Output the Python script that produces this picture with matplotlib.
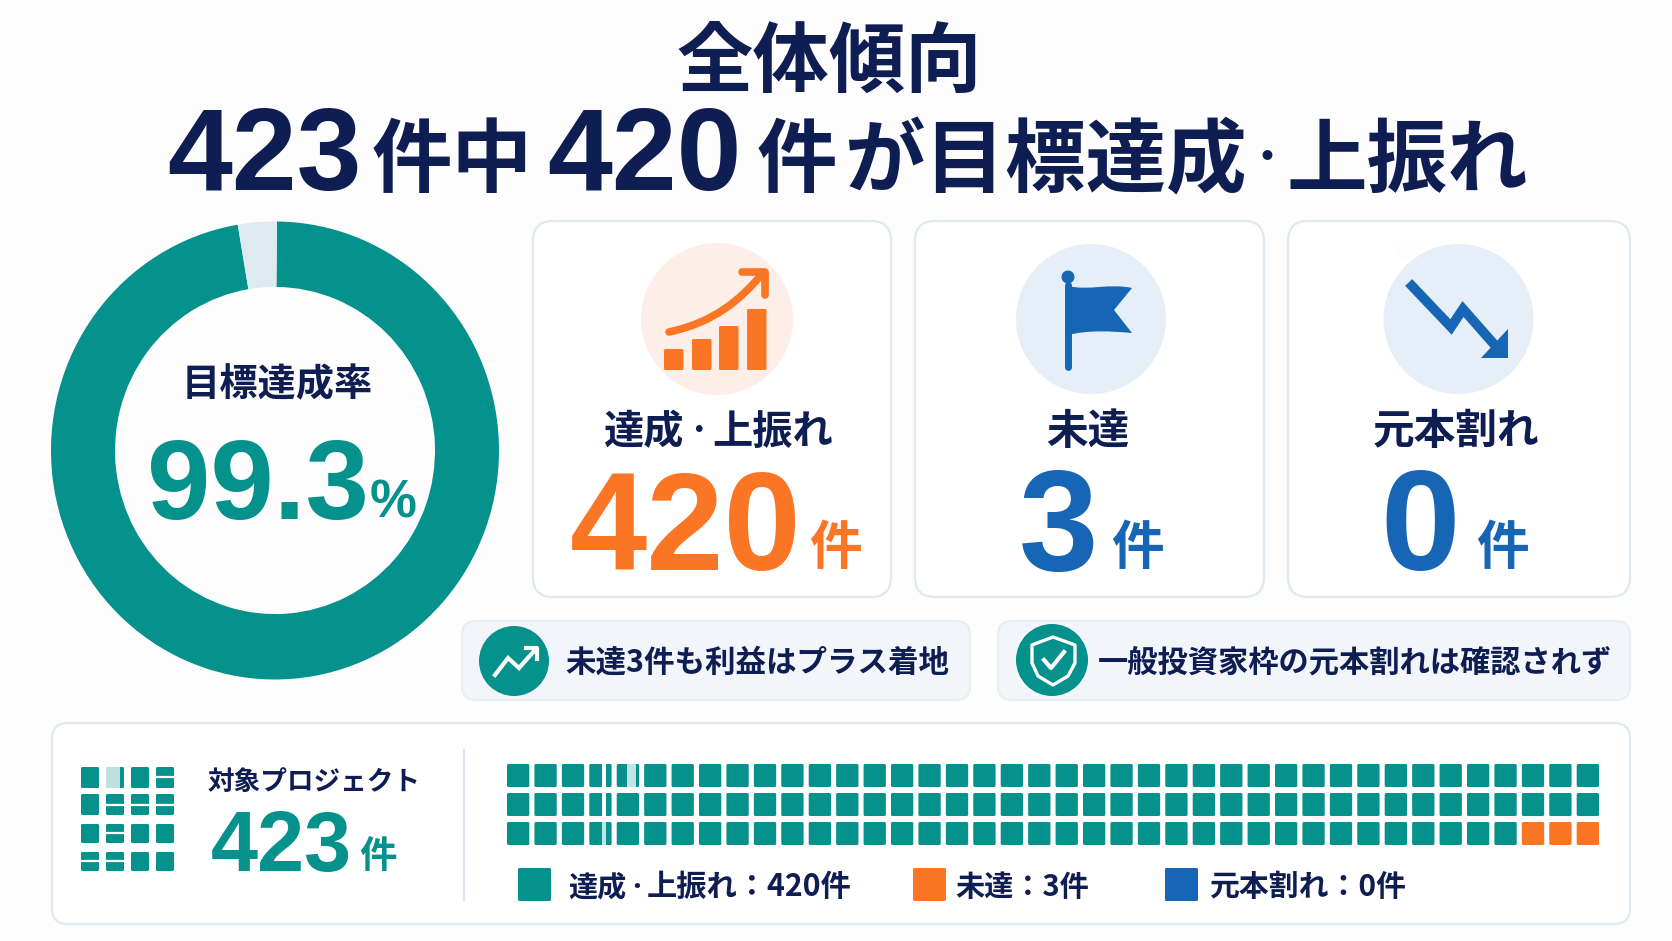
import numpy as np
import matplotlib
matplotlib.use('Agg')
import matplotlib.pyplot as plt
from matplotlib.patches import FancyBboxPatch, Circle, Polygon, PathPatch, Ellipse
from matplotlib.path import Path

plt.rcParams['font.family'] = ['Noto Sans CJK JP', 'DejaVu Sans']
plt.rcParams['font.weight'] = 'bold'

## colours
navy = '#0E1D52'
teal = '#05918C'
orange = '#FA7625'
blue = '#1765B5'
border = '#E0E9EF'
chip_bg = '#F2F6FA'
bg = '#FDFDFE'

## data
# arc as drawn: the pale gap is wider than 0.7 % would be
donut_values = [97.2, 2.8]
donut_colors = [teal, '#DDEBF0']
rate_label = '99.3'
card_labels = ['未達', '元本割れ']
card_counts = ['420', '3', '0']
card_colors = [orange, blue, blue]
waffle_counts = [117, 3]
waffle_colors = [teal, orange]
waffle_cols = 40
waffle_rows = 3
legend_labels = ['未達：3件', '元本割れ：0件']
legend_colors = [teal, orange, blue]
chip_texts = ['未達3件も利益はプラス着地', '一般投資家枠の元本割れは確認されず']
growth_bars = [21, 31, 44, 61]

W, H = 1672, 941
fig = plt.figure(figsize=(W / 100, H / 100), dpi=100, facecolor=bg)


def add_pixel_axes() :
    ax = fig.add_axes([0, 0, 1, 1], zorder=2)
    ax.set_xlim(0, W)
    ax.set_ylim(H, 0)
    ax.axis('off')
    return ax


def box(ax, x0, y0, x1, y1, r, fc, ec, lw=1.6, z=1) :
    ax.add_patch(FancyBboxPatch((x0, y0), x1 - x0, y1 - y0, boxstyle='round,pad=0,rounding_size=%g' % r,
                                fc=fc, ec=ec, lw=lw, zorder=z))


def txt(ax, x, y, s, size, color=navy, ha='left') :
    ax.text(x, y, s, fontsize=size, color=color, ha=ha, va='baseline', zorder=5)


def num(ax, x, y, s, size, color=navy, ha='left') :
    ax.text(x, y, s, fontsize=size, color=color, ha=ha, va='baseline', zorder=5, family=['Liberation Sans', 'DejaVu Sans'])


def donut() :
    cx, cy, rx, ry = 275, 450.5, 224, 229
    ax = fig.add_axes([(cx - rx) / W, 1 - (cy + ry) / H, 2 * rx / W, 2 * ry / H], zorder=1)
    ax.pie(donut_values, colors=donut_colors, startangle=89.5, counterclock=False, radius=1,
           wedgeprops={'width': 1 - 160 / 224})
    ax.set_aspect('auto')
    ax.set_xlim(-1, 1)
    ax.set_ylim(-1, 1)


def title(ax) :
    txt(ax, 829, 87, '全体傾向', 55, ha='center')
    num(ax, 167, 190, '423', 84)
    txt(ax, 372, 186, '件中', 58)
    num(ax, 547, 190, '420', 84)
    txt(ax, 757, 186, '件', 58)
    txt(ax, 844, 186, 'が目標達成', 58)
    # narrow dot: smaller size so it fits the gap between the words
    txt(ax, 1266.5, 170, '・', 28, ha='center')
    txt(ax, 1286, 186, '上振れ', 58)


def cards(ax) :
    edges = [(533, 891), (915, 1264), (1288, 1630)]
    centers = [1088, 1456]
    num_x = [[686, 835], [1058, 1137], [1420, 1502]]
    num_size = [100, 103, 103]
    for i in range(3) :
        box(ax, edges[i][0], 221, edges[i][1], 597, 20, 'white', border)
        num(ax, num_x[i][0], 570, card_counts[i], num_size[i], card_colors[i], ha='center')
        txt(ax, num_x[i][1], 564, '件', 38, card_colors[i], ha='center')
    txt(ax, 604, 444, '達成', 29)
    txt(ax, 698.5, 439, '・', 19, ha='center')
    txt(ax, 712, 444, '上振れ', 29)
    for c, label in zip(centers, card_labels) :
        txt(ax, c, 444, label, 30, ha='center')


def icon_growth(ax) :
    ax.add_patch(Circle((717, 319), 76, fc='#FDEFE7', ec='none', zorder=2))
    lefts = [664, 692, 719, 747]
    for left, h in zip(lefts, growth_bars) :
        box(ax, left, 370 - h, left + 19.5, 370, 1.5, orange, 'none', lw=0, z=3)
    curve = Path([(669, 332), (715, 322), (740, 300), (763, 273)], [Path.MOVETO, Path.CURVE4, Path.CURVE4, Path.CURVE4])
    ax.add_patch(PathPatch(curve, fc='none', ec=orange, lw=5.5, capstyle='round', zorder=3))
    ax.plot([742, 765, 765], [272, 272, 295], color=orange, lw=5.5, solid_capstyle='round', solid_joinstyle='round', zorder=3)


def icon_flag(ax) :
    ax.add_patch(Circle((1091, 319), 75, fc='#E6EFF7', ec='none', zorder=2))
    ax.plot([1068, 1068], [285, 367], color=blue, lw=5, solid_capstyle='round', zorder=3)
    ax.add_patch(Circle((1068, 277), 6.5, fc=blue, ec='none', zorder=3))
    verts = [(1068, 286), (1088, 291), (1110, 283), (1132, 288), (1114, 310), (1132, 333),
             (1110, 331), (1088, 330), (1068, 335), (1068, 286)]
    codes = [Path.MOVETO, Path.CURVE4, Path.CURVE4, Path.CURVE4, Path.LINETO, Path.LINETO,
             Path.CURVE4, Path.CURVE4, Path.CURVE4, Path.CLOSEPOLY]
    ax.add_patch(PathPatch(Path(verts, codes), fc=blue, ec='none', zorder=3))


def icon_down(ax) :
    ax.add_patch(Circle((1458.5, 319), 75, fc='#E6EFF7', ec='none', zorder=2))
    ax.add_patch(Ellipse((1408, 250), 24, 18, fc=bg, ec='none', zorder=2.5))
    ax.plot([1412, 1451, 1463, 1500], [286, 327, 309, 351], color=blue, lw=7, solid_joinstyle='miter', zorder=3)
    ax.add_patch(Polygon([(1508, 329), (1508, 358), (1481, 358)], fc=blue, ec='none', zorder=3))


def chips(ax) :
    box(ax, 462, 621, 970, 700, 14, chip_bg, '#E8EEF3')
    box(ax, 998, 621, 1630, 700, 14, chip_bg, '#E8EEF3')
    txt(ax, 565, 672, chip_texts[0], 22)
    txt(ax, 1098, 672, chip_texts[1], 21.8)

    ax.add_patch(Circle((514, 661), 35, fc=teal, ec='none', zorder=2))
    ax.plot([495, 508, 519, 535], [675, 658, 668, 650], color='white', lw=3, solid_joinstyle='miter', zorder=3)
    ax.plot([526, 537, 537], [648, 648, 659], color='white', lw=3, zorder=3)

    ax.add_patch(Circle((1052, 660), 36, fc=teal, ec='none', zorder=2))
    shield = [(1053, 637), (1075, 645), (1075, 663), (1068, 676), (1053, 685), (1038, 676), (1032, 663), (1032, 645)]
    ax.add_patch(Polygon(shield, closed=True, fc='none', ec='white', lw=2.4, joinstyle='round', zorder=3))
    ax.plot([1044, 1051, 1064], [660, 668, 652], color='white', lw=3, zorder=3)


def grid_icon(ax) :
    xs = [81, 106, 131, 156]
    ys = [(767, 788), (794, 815), (824, 843), (852, 871)]
    for y0, y1 in ys :
        for x in xs :
            box(ax, x, y0, x + 18, y1, 1.5, teal, 'none', lw=0, z=2)
    # washed out patches in the icon
    ax.add_patch(plt.Rectangle((106, 767), 14, 21, fc='#BFE0DE', ec='none', zorder=3))
    for x0, x1, y in [(156, 174, 777), (106, 174, 805), (106, 124, 833), (81, 100, 861), (106, 124, 861)] :
        ax.plot([x0, x1], [y, y], color='white', lw=1.6, zorder=3)


def waffle(ax) :
    box(ax, 52, 723, 1630, 924, 16, 'white', border)
    ax.plot([463.5, 463.5], [750, 900], color='#DDE6EC', lw=1.6, zorder=2)
    grid_icon(ax)
    txt(ax, 208, 790, '対象プロジェクト', 19.2)
    num(ax, 211, 871, '423', 61, teal)
    txt(ax, 359, 868, '件', 27, teal)

    colors = np.repeat(waffle_colors, waffle_counts)
    xs = np.linspace(507, 1599 - 22.3, waffle_cols)
    ys = [764, 793, 822]
    for k, c in enumerate(colors) :
        row, col = divmod(k, waffle_cols)
        box(ax, xs[col], ys[row], xs[col] + 22.3, ys[row] + 23, 1.5, c, 'none', lw=0, z=2)
    # white streaks across the fourth and fifth columns
    for x0, x1, y0, y1, c in [(602, 606, 764, 787, 'white'), (602, 606, 793, 816, 'white'), (602, 606, 822, 845, '#BFE6E3'),
                              (627, 636, 764, 787, '#BFE6E3')] :
        ax.add_patch(plt.Rectangle((x0, y0), x1 - x0, y1 - y0, fc=c, ec='none', zorder=3))

    swatch = [518, 913, 1165]
    for i in range(3) :
        box(ax, swatch[i], 868, swatch[i] + 33, 901, 1.5, legend_colors[i], 'none', lw=0, z=2)
    txt(ax, 568, 896, '達成', 21)
    txt(ax, 636.5, 893, '・', 15, ha='center')
    txt(ax, 647, 896, '上振れ：420件', 21.8)
    txt(ax, 955, 896, legend_labels[0], 21)
    txt(ax, 1209, 896, legend_labels[1], 21.5)


donut()
ax = add_pixel_axes()
title(ax)
txt(ax, 277, 396, '目標達成率', 27.5, ha='center')
num(ax, 258, 519, rate_label, 82, teal, ha='center')
num(ax, 370, 518, '%', 38, teal)
cards(ax)
icon_growth(ax)
icon_flag(ax)
icon_down(ax)
chips(ax)
waffle(ax)

fig.savefig('out.png', dpi=100, facecolor=bg)
